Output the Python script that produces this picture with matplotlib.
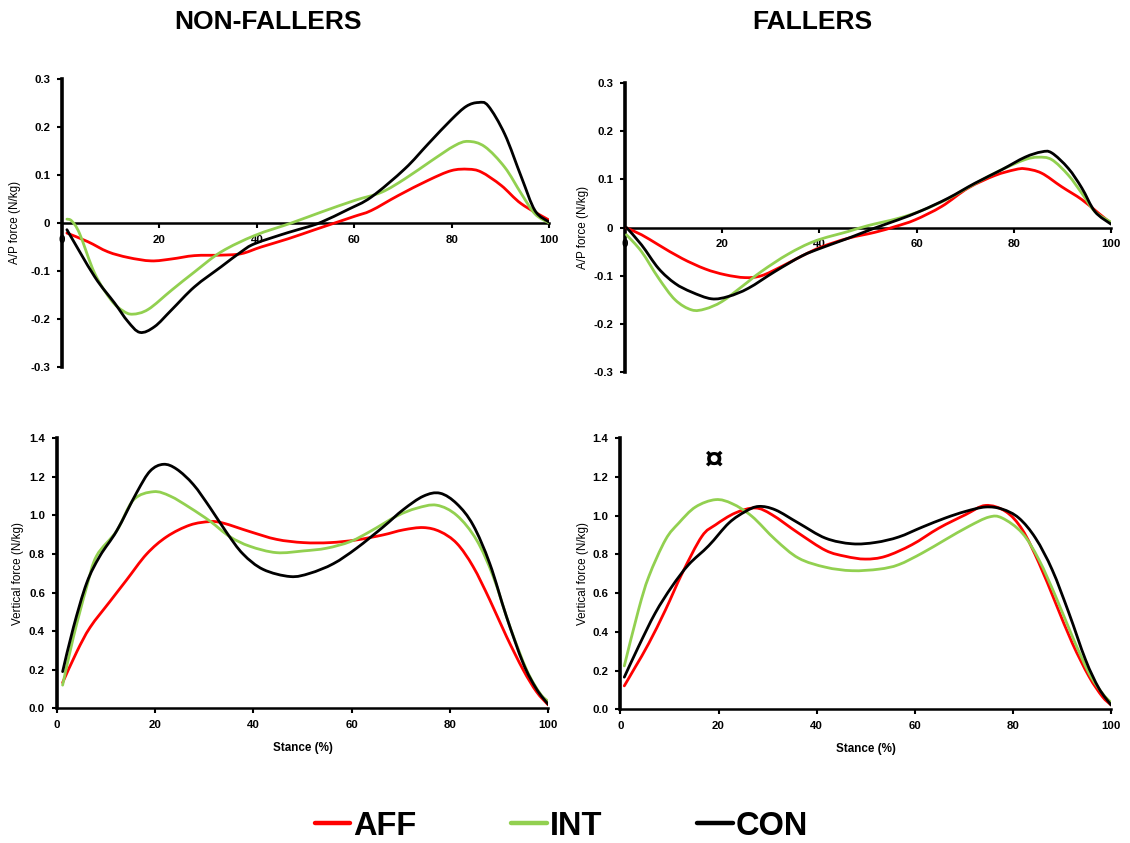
import matplotlib
matplotlib.use("Agg")
import matplotlib.pyplot as plt
import numpy as np
from matplotlib.lines import Line2D
from matplotlib.path import Path
from matplotlib.patches import PathPatch
from matplotlib.ticker import FuncFormatter, MultipleLocator

plt.rcParams['font.family'] = ['Liberation Sans', 'DejaVu Sans']

# ---------------- data: ground reaction forces over stance ----------------
groups = ["AFF", "INT", "CON"]
colors = {"AFF": "#ff0000", "INT": "#92d050", "CON": "#000000"}
panel_titles = ["NON-FALLERS", "FALLERS"]

# Non-fallers, anterior/posterior force (N/kg)
nf_ap_aff_x = [1, 5.3, 9.4, 13.6, 18.3, 22.5, 27.2, 32.7, 36.8, 40.9, 46.4, 51.9, 56, 60.1, 63.5, 69, 75.2, 79.9, 83.4, 86.1, 90.2, 94.3, 100]
nf_ap_aff_y = [-0.021, -0.039, -0.060, -0.072, -0.079, -0.075, -0.068, -0.067, -0.064, -0.050, -0.033, -0.014, 0.0, 0.014, 0.026, 0.057, 0.089, 0.109, 0.112, 0.106, 0.078, 0.040, 0.006]
nf_ap_int_x = [1, 2, 3.6, 6.7, 10.1, 12.5, 14.5, 17.7, 22.5, 27.2, 32.7, 39.6, 47.1, 53.3, 60.1, 65.6, 70.4, 75.9, 80.6, 83.4, 86.8, 90.9, 94.3, 97.1, 100]
nf_ap_int_y = [0.008, 0.004, -0.022, -0.105, -0.161, -0.183, -0.190, -0.180, -0.140, -0.102, -0.060, -0.026, 0.0, 0.023, 0.047, 0.064, 0.092, 0.130, 0.161, 0.170, 0.159, 0.116, 0.061, 0.019, 0.0]
nf_ap_con_x = [1, 6.7, 10.8, 13.5, 16, 19, 22.5, 27.2, 32.7, 36.8, 39.6, 46.4, 50.5, 53.3, 58.7, 63.5, 70.4, 75.2, 79.9, 83, 85.5, 87.5, 90.9, 94.3, 97.1, 100]
nf_ap_con_y = [-0.014, -0.112, -0.167, -0.205, -0.228, -0.216, -0.181, -0.133, -0.091, -0.060, -0.043, -0.020, -0.008, 0.002, 0.028, 0.054, 0.113, 0.165, 0.215, 0.243, 0.251, 0.244, 0.185, 0.096, 0.026, 0.002]

# Fallers, anterior/posterior force (N/kg)
f_ap_aff_x = [0.3, 3.4, 6.9, 11.7, 16.5, 20.6, 24.7, 28.1, 32.2, 36.4, 40.5, 46, 51.4, 55.6, 59.7, 65.2, 70.6, 76.1, 80.2, 82.3, 85.7, 89.8, 94, 97.4, 100]
f_ap_aff_y = [-0.001, -0.015, -0.036, -0.064, -0.086, -0.098, -0.104, -0.100, -0.081, -0.059, -0.040, -0.022, -0.010, 0.002, 0.016, 0.044, 0.082, 0.108, 0.120, 0.122, 0.113, 0.085, 0.058, 0.030, 0.009]
f_ap_int_x = [0.3, 3.4, 6.9, 10.3, 13.7, 16.5, 19.9, 24, 28.1, 33.6, 39.1, 46, 50, 56.2, 61, 66.5, 72, 77.5, 82.3, 85, 87.8, 91.2, 94, 96.7, 100]
f_ap_int_y = [-0.015, -0.050, -0.105, -0.150, -0.171, -0.169, -0.154, -0.123, -0.091, -0.055, -0.028, -0.008, 0.004, 0.019, 0.035, 0.060, 0.091, 0.120, 0.141, 0.146, 0.141, 0.109, 0.071, 0.033, 0.011]
f_ap_con_x = [0.3, 3.4, 6.9, 10.3, 13.7, 17.8, 21.3, 25.4, 30.9, 36.4, 40.5, 46, 51.4, 56.2, 61, 66.5, 72, 77.5, 82.3, 85.7, 87.8, 91.2, 94, 96.7, 100]
f_ap_con_y = [0.0, -0.036, -0.085, -0.116, -0.134, -0.148, -0.143, -0.126, -0.091, -0.059, -0.042, -0.022, -0.001, 0.016, 0.035, 0.061, 0.092, 0.120, 0.146, 0.157, 0.155, 0.123, 0.082, 0.033, 0.007]

# Non-fallers, vertical force (N/kg)
nf_v_aff_x = [1.2, 4.1, 6.8, 10.8, 14.2, 18.3, 22.4, 27.1, 31.2, 33.9, 39.3, 44.7, 50.2, 55.6, 61, 66.4, 70.5, 74.6, 78, 81.4, 84.7, 88.1, 91.5, 94.9, 97.6, 100]
nf_v_aff_y = [0.133, 0.294, 0.420, 0.553, 0.665, 0.800, 0.890, 0.950, 0.968, 0.960, 0.916, 0.876, 0.859, 0.859, 0.873, 0.899, 0.925, 0.937, 0.916, 0.855, 0.735, 0.562, 0.372, 0.199, 0.086, 0.017]
nf_v_int_x = [1.2, 3.4, 6.1, 8.1, 12.2, 15.6, 19.7, 23.1, 27.1, 31.2, 35.2, 39.3, 44.7, 50.2, 54.9, 59.7, 63.7, 69.2, 73.2, 77.3, 81.4, 85.4, 88.8, 92.2, 95.6, 98.3, 100]
nf_v_int_y = [0.120, 0.370, 0.630, 0.790, 0.920, 1.080, 1.123, 1.100, 1.040, 0.970, 0.890, 0.840, 0.807, 0.816, 0.830, 0.864, 0.916, 0.997, 1.037, 1.053, 1.000, 0.873, 0.683, 0.423, 0.199, 0.078, 0.035]
nf_v_con_x = [1.2, 3.4, 6.1, 8.8, 12.2, 16.3, 19, 21.7, 24.4, 27.8, 31.2, 34.6, 37.9, 42, 47.5, 51.5, 56.3, 61, 66.4, 70.5, 74.6, 78, 81.4, 84.7, 88.1, 91.5, 94.9, 97.6, 100]
nf_v_con_y = [0.190, 0.420, 0.650, 0.790, 0.920, 1.120, 1.230, 1.265, 1.240, 1.160, 1.040, 0.910, 0.800, 0.720, 0.683, 0.700, 0.750, 0.830, 0.940, 1.030, 1.100, 1.115, 1.060, 0.950, 0.750, 0.475, 0.233, 0.100, 0.020]

# Fallers, vertical force (N/kg)
f_v_aff_x = [0.8, 3.1, 5.8, 9.2, 12.6, 16.6, 19.4, 23.4, 27.5, 30.9, 36.3, 41.8, 45.9, 49.9, 54, 59.4, 64.9, 70.3, 74.4, 78.5, 81.9, 85.3, 88.7, 92.1, 95.5, 98.2, 100]
f_v_aff_y = [0.121, 0.221, 0.341, 0.514, 0.703, 0.893, 0.953, 1.014, 1.040, 1.005, 0.910, 0.821, 0.790, 0.776, 0.790, 0.850, 0.936, 1.005, 1.053, 1.022, 0.928, 0.755, 0.548, 0.341, 0.169, 0.066, 0.022]
f_v_int_x = [0.8, 3.7, 5.8, 9.2, 11.9, 15.3, 19.4, 22.8, 26.8, 31.6, 36.3, 41.8, 47.2, 52.7, 56.7, 61.5, 66.2, 71, 75.1, 77.8, 81.9, 85.3, 88.7, 92.1, 95.5, 98.2, 100]
f_v_int_y = [0.224, 0.514, 0.686, 0.876, 0.962, 1.045, 1.083, 1.062, 0.997, 0.876, 0.781, 0.734, 0.716, 0.724, 0.747, 0.807, 0.876, 0.945, 0.993, 0.988, 0.910, 0.772, 0.583, 0.376, 0.186, 0.083, 0.034]
f_v_con_x = [0.8, 3.7, 7.1, 10.5, 13.9, 18, 22.1, 25.5, 28.2, 31.6, 36.3, 41.8, 47.2, 52, 56.7, 61.5, 66.2, 70.3, 74.4, 77.8, 81.2, 84.6, 88, 91.4, 94.8, 97.5, 100]
f_v_con_y = [0.166, 0.324, 0.497, 0.634, 0.747, 0.845, 0.962, 1.022, 1.048, 1.030, 0.962, 0.884, 0.855, 0.862, 0.890, 0.941, 0.988, 1.022, 1.045, 1.034, 0.988, 0.884, 0.720, 0.497, 0.255, 0.109, 0.022]

# significance marker on the fallers' vertical panel
sig_symbol = "\u00a4"
sig_x, sig_y = 19, 1.28

ap_series = [
    {"AFF": (nf_ap_aff_x, nf_ap_aff_y), "INT": (nf_ap_int_x, nf_ap_int_y), "CON": (nf_ap_con_x, nf_ap_con_y)},
    {"AFF": (f_ap_aff_x, f_ap_aff_y), "INT": (f_ap_int_x, f_ap_int_y), "CON": (f_ap_con_x, f_ap_con_y)},
]
v_series = [
    {"AFF": (nf_v_aff_x, nf_v_aff_y), "INT": (nf_v_int_x, nf_v_int_y), "CON": (nf_v_con_x, nf_v_con_y)},
    {"AFF": (f_v_aff_x, f_v_aff_y), "INT": (f_v_int_x, f_v_int_y), "CON": (f_v_con_x, f_v_con_y)},
]


def smooth_line(ax, x, y, color, lw=2.0):
    """Draw a smoothed line through the points as cubic Bezier segments."""
    p = np.column_stack([x, y]).astype(float)
    n = len(p)
    verts = [p[0]]
    codes = [Path.MOVETO]
    for i in range(n - 1):
        p0 = p[i - 1] if i > 0 else p[i]
        p1, p2 = p[i], p[i + 1]
        p3 = p[i + 2] if i + 2 < n else p[i + 1]
        verts += [p1 + (p2 - p0) / 6.0, p2 - (p3 - p1) / 6.0, p2]
        codes += [Path.CURVE4] * 3
    patch = PathPatch(Path(verts, codes), facecolor="none", edgecolor=color,
                      lw=lw, capstyle="round", joinstyle="round", zorder=3)
    ax.add_patch(patch)


# ---------------- figure ----------------
fig = plt.figure(figsize=(11.3, 8.43), dpi=100)

ap_rects = [[0.0549, 0.5647, 0.431, 0.3416], [0.5531, 0.5587, 0.4301, 0.3428]]
v_rects = [[0.0502, 0.1598, 0.4350, 0.3203], [0.5490, 0.1586, 0.4343, 0.3215]]
ap_label_x = [-0.084, -0.074]
v_label_x = [-0.067, -0.063]

TICK_SIZE = 8.2
LABEL_SIZE = 8.4


def style_common(ax):
    for s in ("top", "right"):
        ax.spines[s].set_visible(False)
    ax.spines["left"].set_linewidth(2.6)
    ax.spines["bottom"].set_linewidth(1.8)
    ax.tick_params(axis="both", direction="out", length=3.5, width=1.5, pad=5,
                   labelsize=TICK_SIZE)
    for lbl in ax.get_xticklabels() + ax.get_yticklabels():
        lbl.set_fontweight("bold")
    ax.set_xlim(0, 100)
    ax.xaxis.set_major_locator(MultipleLocator(20))


for i in range(2):
    # anterior/posterior panel
    ax = fig.add_axes(ap_rects[i])
    for g in groups:
        x, y = ap_series[i][g]
        smooth_line(ax, x, y, colors[g])
    ax.set_ylim(-0.3, 0.3)
    ax.yaxis.set_major_locator(MultipleLocator(0.1))
    ax.yaxis.set_major_formatter(FuncFormatter(lambda v, p: "0" if abs(v) < 1e-9 else f"{v:.1f}"))
    ax.spines["bottom"].set_position(("data", 0))
    style_common(ax)
    ax.set_ylabel("A/P force (N/kg)", fontsize=LABEL_SIZE)
    ax.yaxis.set_label_coords(ap_label_x[i], 0.5)

    # vertical panel
    ax = fig.add_axes(v_rects[i])
    for g in groups:
        x, y = v_series[i][g]
        smooth_line(ax, x, y, colors[g])
    ax.set_ylim(0, 1.4)
    ax.yaxis.set_major_locator(MultipleLocator(0.2))
    ax.yaxis.set_major_formatter(FuncFormatter(lambda v, p: f"{v:.1f}"))
    style_common(ax)
    ax.set_ylabel("Vertical force (N/kg)", fontsize=LABEL_SIZE)
    ax.yaxis.set_label_coords(v_label_x[i], 0.5)
    ax.set_xlabel("Stance (%)", fontsize=LABEL_SIZE, fontweight="bold")
    ax.xaxis.set_label_coords(0.5, -0.125)
    if i == 1:
        ax.text(sig_x, sig_y, sig_symbol, fontsize=24, fontweight="bold",
                ha="center", va="center")

# column titles
fig.text(0.237, 0.974, panel_titles[0], fontsize=19, fontweight="bold", ha="center", va="center")
fig.text(0.7186, 0.974, panel_titles[1], fontsize=19, fontweight="bold", ha="center", va="center")

# legend
handles = [Line2D([0], [0], color=colors[g], lw=3.2, solid_capstyle="round") for g in groups]
leg = fig.legend(handles, groups, loc="center", bbox_to_anchor=(0.4965, 0.02), ncol=3,
                 frameon=False, handlelength=1.1, handletextpad=0.08, columnspacing=2.9,
                 prop={"size": 23.5, "weight": "bold"})

fig.savefig("out.png", dpi=100)
